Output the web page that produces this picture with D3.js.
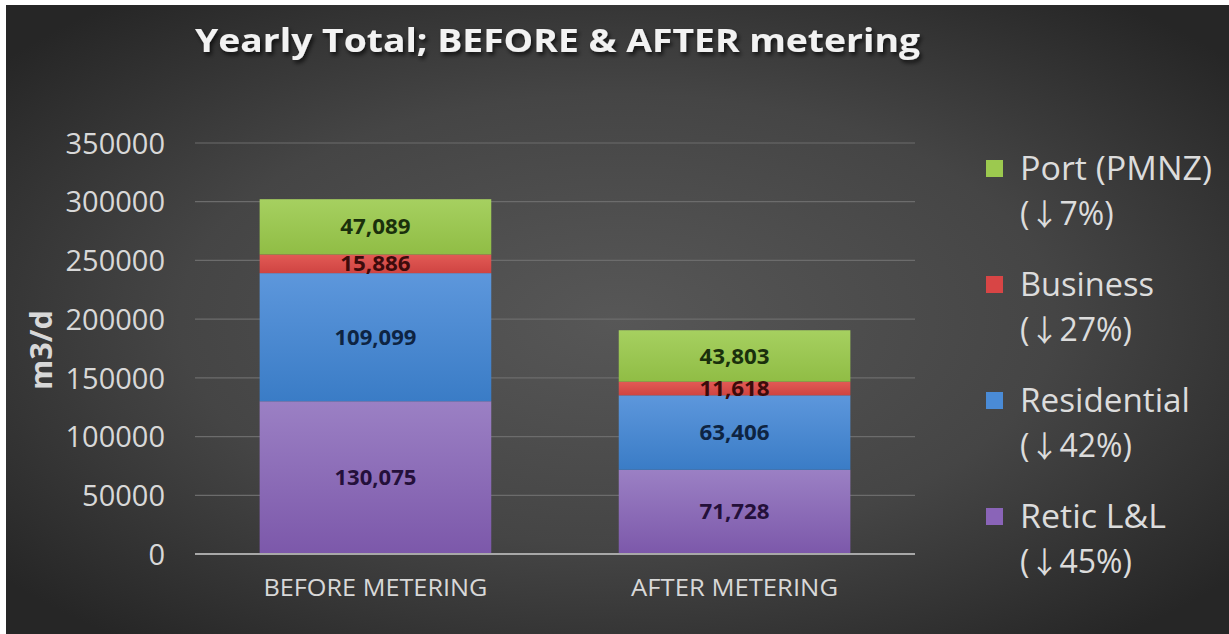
<!DOCTYPE html>
<html>
<head>
<meta charset="utf-8">
<script src="https://cdn.jsdelivr.net/npm/d3@7/dist/d3.min.js"></script>
<style>
  html, body { margin: 0; padding: 0; background: #ffffff; }
  svg { display: block; }
</style>
</head>
<body>
<svg id="chart" width="1229" height="634"></svg>
<script>
// ---- data ----
const categories = ["BEFORE METERING", "AFTER METERING"];
const seriesNames = ["Retic L&L", "Residential", "Business", "Port (PMNZ)"];
const reticValues = [130075, 71728];
const residentialValues = [109099, 63406];
const businessValues = [15886, 11618];
const portValues = [47089, 43803];
const legendChanges = ["7%", "27%", "42%", "45%"]; // Port, Business, Residential, Retic (decreases)
const yTicks = [0, 50000, 100000, 150000, 200000, 250000, 300000, 350000];
const titleText = "Yearly Total; BEFORE & AFTER metering";
const yAxisLabel = "m3/d";

// ---- build table ----
const seriesValues = [reticValues, residentialValues, businessValues, portValues];
const table = categories.map((c, i) => {
  const row = { category: c };
  seriesNames.forEach((s, j) => row[s] = seriesValues[j][i]);
  return row;
});
const stacked = d3.stack().keys(seriesNames)(table);

const svg = d3.select("#chart");
const W = 1229, H = 634;
const defs = svg.append("defs");

// background
const bg = defs.append("radialGradient").attr("id", "bg")
  .attr("cx", "50%").attr("cy", "50%").attr("r", "65%")
  .attr("gradientUnits", "objectBoundingBox");
bg.append("stop").attr("offset", "0%").attr("stop-color", "#575757");
bg.append("stop").attr("offset", "55%").attr("stop-color", "#454545");
bg.append("stop").attr("offset", "100%").attr("stop-color", "#262626");
svg.append("rect").attr("x", 6).attr("y", 5).attr("width", W - 6).attr("height", H - 5)
  .attr("fill", "url(#bg)");

// bar gradients
const colors = {
  "Retic L&L": ["#9b80c4", "#7c58aa"],
  "Residential": ["#5d97dc", "#3a7cc6"],
  "Business": ["#e25a55", "#cf4442"],
  "Port (PMNZ)": ["#a6d060", "#90bd45"]
};
const labelColors = {
  "Retic L&L": "#24103a",
  "Residential": "#0e2442",
  "Business": "#3d0b0b",
  "Port (PMNZ)": "#1a300c"
};
const legendSwatch = {
  "Retic L&L": "#8a64b8",
  "Residential": "#4a8bd6",
  "Business": "#d84545",
  "Port (PMNZ)": "#9cc94f"
};
seriesNames.forEach((s, i) => {
  const g = defs.append("linearGradient").attr("id", "g" + i)
    .attr("x1", 0).attr("y1", 0).attr("x2", 0).attr("y2", 1);
  g.append("stop").attr("offset", "0%").attr("stop-color", colors[s][0]);
  g.append("stop").attr("offset", "100%").attr("stop-color", colors[s][1]);
});

// title shadow filter
const f = defs.append("filter").attr("id", "shadow").attr("x", "-10%").attr("y", "-30%").attr("width", "120%").attr("height", "160%");
f.append("feDropShadow").attr("dx", 2).attr("dy", 3).attr("stdDeviation", 2).attr("flood-color", "#000").attr("flood-opacity", 0.7);

// scales
const plotLeft = 195, plotRight = 915, plotTop = 143, plotBottom = 554;
const x = d3.scaleBand().domain(categories).range([plotLeft, plotRight]).paddingInner(0.355).paddingOuter(0.18);
const y = d3.scaleLinear().domain([0, 350000]).range([plotBottom, plotTop]);

// gridlines
svg.append("g").selectAll("line").data(yTicks.filter(t => t > 0)).join("line")
  .attr("x1", plotLeft).attr("x2", plotRight)
  .attr("y1", d => y(d)).attr("y2", d => y(d))
  .attr("stroke", "#6c6c6c").attr("stroke-width", 1.2);

// y axis tick labels
const yAxis = d3.axisLeft(y).tickValues(yTicks).tickFormat(d3.format("d")).tickSize(0).tickPadding(0);
const yg = svg.append("g").attr("transform", `translate(165,0)`).call(yAxis);
yg.select(".domain").remove();
yg.selectAll("text")
  .attr("fill", "#d8d8d8")
  .style("font-family", "'Open Sans', sans-serif")
  .style("font-size", "29px")
  .attr("dy", "0.35em");

// bars
const layers = svg.append("g").selectAll("g").data(stacked).join("g")
  .attr("fill", (d, i) => `url(#g${i})`);
layers.selectAll("rect").data(d => d.map(v => ({ v, key: d.key }))).join("rect")
  .attr("x", d => x(d.v.data.category))
  .attr("width", x.bandwidth())
  .attr("y", d => y(d.v[1]))
  .attr("height", d => y(d.v[0]) - y(d.v[1]));

// zero axis line
svg.append("line").attr("x1", plotLeft).attr("x2", plotRight)
  .attr("y1", y(0)).attr("y2", y(0))
  .attr("stroke", "#a8a8a8").attr("stroke-width", 2);

// data labels
const fmt = d3.format(",");
stacked.forEach(layer => {
  svg.append("g").selectAll("text").data(layer).join("text")
    .attr("x", d => x(d.data.category) + x.bandwidth() / 2)
    .attr("y", d => (y(d[0]) + y(d[1])) / 2)
    .attr("dy", "0.36em")
    .attr("text-anchor", "middle")
    .attr("fill", labelColors[layer.key])
    .style("font-family", "'Open Sans', sans-serif")
    .style("font-weight", "bold")
    .style("font-size", "21px")
    .attr("textLength", d => fmt(d[1] - d[0]).length * 11.7)
    .attr("lengthAdjust", "spacingAndGlyphs")
    .text(d => fmt(d[1] - d[0]));
});

// category labels
svg.append("g").selectAll("text").data(categories).join("text")
  .attr("x", d => x(d) + x.bandwidth() / 2)
  .attr("y", 596)
  .attr("text-anchor", "middle")
  .attr("fill", "#d8d8d8")
  .style("font-family", "'Open Sans', sans-serif")
  .style("font-size", "23px")
  .attr("textLength", (d, i) => i === 0 ? 224 : 207)
  .attr("lengthAdjust", "spacingAndGlyphs")
  .text(d => d);

// y axis label
svg.append("text")
  .attr("transform", "translate(52,350) rotate(-90)")
  .attr("text-anchor", "middle")
  .attr("fill", "#d8d8d8")
  .style("font-family", "'Open Sans', sans-serif")
  .style("font-weight", "bold")
  .style("font-size", "30px")
  .attr("textLength", 80)
  .attr("lengthAdjust", "spacingAndGlyphs")
  .text(yAxisLabel);

// title
svg.append("text")
  .attr("x", 195).attr("y", 52)
  .attr("fill", "#f2f2f2")
  .attr("filter", "url(#shadow)")
  .style("font-family", "'Open Sans', sans-serif")
  .style("font-weight", "bold")
  .style("font-size", "33px")
  .attr("textLength", 725)
  .attr("lengthAdjust", "spacingAndGlyphs")
  .text(titleText);

// legend (top-down: Port, Business, Residential, Retic)
const legendOrder = seriesNames.slice().reverse();
const lg = svg.append("g").selectAll("g").data(legendOrder).join("g")
  .attr("transform", (d, i) => `translate(986,${168 + i * 116})`);
lg.append("rect").attr("x", 0).attr("y", -8).attr("width", 17).attr("height", 17)
  .attr("fill", d => legendSwatch[d]);
lg.append("text").attr("x", 34).attr("y", 0).attr("dy", "0.36em")
  .attr("fill", "#dcdcdc")
  .style("font-family", "'Open Sans', sans-serif")
  .style("font-size", "32px")
  .attr("textLength", (d, i) => [192, 134, 170, 146][i])
  .attr("lengthAdjust", "spacingAndGlyphs")
  .text(d => d);
const t2 = lg.append("text").attr("x", 34).attr("y", 45).attr("dy", "0.36em")
  .attr("fill", "#dcdcdc")
  .style("font-family", "'Open Sans', sans-serif")
  .style("font-size", "32px");
t2.append("tspan").text("(");
t2.append("tspan").style("font-family", "'Noto Sans CJK JP', 'DejaVu Sans', sans-serif")
  .style("font-size", "30px").text("\u2193");
t2.append("tspan").text((d, i) => legendChanges[i] + ")");
</script>
</body>
</html>
